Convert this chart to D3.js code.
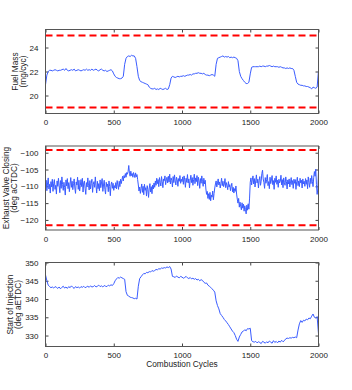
<!DOCTYPE html>
<html>
<head>
<meta charset="utf-8">
<style>
    body { margin: 0; background: #fff; }
    svg { display: block; font-family: 'Liberation Sans', Arial, sans-serif; }
    .tick text { font-size: 8px; fill: #222; }
    .tick line { stroke: #444; }
    .domain { display: none; }
    .ylab, .xlab { font-size: 8.3px; fill: #222; }
</style>
</head>
<body>
<svg width="352" height="390"></svg>

<script src="https://d3js.org/d3.v7.min.js"></script>
<script>
// cycles axis
let xTicks = [0, 500, 1000, 1500, 2000];

// fuel mass (mg/cyc), one value every 10 cycles
let fuelMass = [
    20.9, 21.7, 22.0, 22.1, 22.1, 22.05, 22.1, 22.15, 22.1, 22.05,
    22.1, 22.1, 22.15, 22.2, 22.1, 22.25, 22.1, 22.05, 22.1, 22.15,
    22.1, 22.2, 22.05, 22.1, 22.15, 22.1, 22.05, 22.1, 22.15, 22.1,
    22.2, 22.1, 22.15, 22.1, 22.2, 22.1, 22.15, 22.2, 22.1, 22.05,
    22.15, 22.2, 22.1, 22.05, 22.1, 22.0, 22.05, 22.1, 22.15, 22.05,
    21.8, 21.6, 21.5, 21.45, 21.4, 21.4, 21.45, 21.6, 22.6, 23.1,
    23.25, 23.3, 23.25, 23.35, 23.3, 23.3, 23.1, 22.4, 21.6, 21.25,
    21.15, 21.1, 21.05, 21.0, 20.95, 20.9, 20.7, 20.6, 20.55, 20.55,
    20.6, 20.5, 20.55, 20.5, 20.6, 20.55, 20.5, 20.55, 20.6, 20.5,
    20.55, 20.9, 21.45, 21.6, 21.55, 21.5, 21.55, 21.6, 21.55, 21.6,
    21.6, 21.65, 21.6, 21.65, 21.7, 21.7, 21.75, 21.7, 21.8, 21.8,
    21.85, 21.85, 21.9, 21.85, 21.85, 21.8, 21.85, 21.75, 21.7, 21.7,
    21.65, 21.7, 21.75, 21.7, 21.6, 22.6, 23.1, 23.15, 23.2, 23.25,
    23.3, 23.2, 23.25, 23.2, 23.25, 23.15, 23.2, 23.15, 23.2, 23.15,
    23.1, 22.9, 22.0, 21.6, 21.4, 21.25, 21.1, 21.0, 21.0, 21.1,
    21.8, 22.35, 22.4, 22.4, 22.4, 22.4, 22.4, 22.45, 22.4, 22.45,
    22.45, 22.4, 22.45, 22.45, 22.5, 22.45, 22.4, 22.45, 22.4, 22.4,
    22.4, 22.35, 22.4, 22.35, 22.3, 22.3, 22.25, 22.3, 22.25, 22.3,
    22.25, 22.25, 22.1, 21.6, 21.1, 20.95, 20.9, 20.85, 20.85, 20.8,
    20.8, 20.75, 20.75, 20.7, 20.65, 20.55, 20.7, 20.65, 20.6, 20.7,
    22.1
];
let fuelLimits = [19, 25];
let fuelTicks = [20, 22, 24];

// exhaust valve closing (deg aCTDC), one value every 5 cycles
let evc = [
    -110.5, -108.2, -111.3, -109.0, -107.5, -110.8, -109.4, -112.0, -108.6, -110.2, -107.9, -111.5, -109.1, -108.0, -110.9, -109.7, -112.3, -108.4, -110.0, -107.6,
    -109.8, -111.9, -108.3, -110.6, -107.2, -109.5, -111.2, -108.8, -110.4, -112.6, -108.1, -109.9, -107.7, -110.7, -108.9, -111.6, -109.3, -107.4, -110.3, -108.5,
    -111.0, -109.2, -107.8, -110.5, -112.1, -108.7, -109.6, -107.3, -110.9, -108.2, -111.4, -109.8, -108.0, -110.1, -107.6, -111.7, -109.0, -108.4, -110.6, -112.4,
    -108.9, -110.2, -107.5, -109.7, -111.1, -108.3, -110.8, -109.1, -107.9, -111.8, -109.4, -108.6, -110.3, -107.2, -109.9, -112.0, -108.5, -110.7, -109.2, -111.3,
    -108.1, -110.4, -109.0, -107.7, -111.5, -109.6, -108.2, -110.9, -112.3, -108.8, -110.1, -109.3, -111.6, -108.4, -110.0, -112.8, -109.5, -108.7, -110.6, -109.1,
    -111.2, -109.8, -110.5, -108.9, -110.8, -108.3, -109.6, -110.9, -108.5, -110.1, -107.9, -109.2, -108.1, -107.0, -108.4, -106.8, -107.5, -106.2, -107.3, -105.9,
    -106.4, -105.6, -103.8, -106.1, -107.0, -105.5, -106.8, -106.2, -107.3, -105.9, -106.6, -107.4, -106.0, -107.2, -106.5, -108.0, -109.6, -111.4, -110.2, -112.1,
    -110.6, -109.3, -111.8, -110.0, -112.5, -109.4, -111.2, -110.4, -112.9, -109.8, -111.0, -113.3, -110.5, -109.2, -111.7, -110.1, -112.2, -109.6, -110.8, -109.0,
    -110.3, -108.4, -109.7, -107.6, -109.2, -108.0, -110.1, -107.4, -108.8, -109.9, -107.1, -108.6, -110.4, -107.8, -108.3, -106.9, -109.5, -108.1, -107.3, -109.0,
    -107.0, -108.7, -106.4, -109.3, -107.5, -108.2, -110.2, -107.1, -108.9, -106.6, -108.4, -109.6, -107.3, -108.0, -110.0, -107.7, -108.5, -106.8, -109.1, -107.9,
    -108.6, -107.2, -109.4, -106.9, -108.1, -110.3, -107.6, -108.8, -106.5, -109.0, -107.8, -110.5, -108.2, -106.7, -108.9, -107.4, -109.7, -108.0, -106.4, -109.2,
    -107.5, -108.6, -106.8, -109.8, -107.3, -108.4, -110.6, -107.7, -109.1, -106.9, -108.5, -110.0, -107.6, -109.3, -108.2, -110.8, -112.4, -111.5, -113.6, -112.2,
    -113.9, -111.8, -114.3, -112.6, -113.2, -111.4, -114.0, -112.1, -110.5, -109.3, -108.4, -110.2, -109.0, -107.8, -109.6, -108.7, -110.5, -109.2, -107.6, -109.8,
    -108.5, -110.1, -109.3, -107.7, -110.4, -108.9, -109.8, -111.0, -108.6, -110.2, -109.5, -111.3, -110.0, -109.1, -111.6, -110.3, -112.0, -110.7, -111.5, -109.9,
    -112.3, -113.8, -115.0, -113.6, -116.2, -114.7, -115.9, -117.0, -114.9, -116.5, -115.3, -117.4, -115.8, -116.9, -118.2, -115.6, -117.1, -115.2, -116.8, -113.5,
    -108.8, -107.5, -109.6, -108.1, -106.9, -109.3, -107.7, -110.2, -108.4, -106.6, -109.0, -107.9, -110.5, -108.2, -107.1, -109.7, -108.5, -106.2, -105.2, -107.8,
    -108.9, -110.6, -107.4, -109.1, -108.0, -106.5, -109.8, -108.6, -110.7, -107.3, -109.2, -108.1, -106.8, -109.5, -108.3, -110.9, -107.6, -108.8, -106.9, -109.4,
    -108.2, -110.3, -107.9, -109.0, -108.5, -106.7, -109.6, -108.0, -110.4, -107.5, -108.9, -109.7, -107.2, -108.6, -110.8, -108.1, -109.3, -107.8, -110.2, -108.7,
    -107.4, -109.5, -108.3, -110.6, -107.9, -109.1, -108.0, -110.9, -108.6, -107.3, -109.8, -108.4, -110.1, -107.6, -109.0, -108.2, -110.5, -107.8, -109.3, -108.5,
    -110.0, -107.7, -109.4, -108.1, -110.7, -107.2, -108.9, -110.3, -107.6, -109.2, -106.8, -108.5, -110.1, -107.3, -105.6, -107.0, -104.9, -109.5, -112.4, -110.8,
    -105.5
];
let evcLimits = [-121.6, -99.2];
let evcTicks = [-120, -115, -110, -105, -100];

// start of injection (deg aETDC), one value every 10 cycles
let soi = [
    346.6, 345.0, 343.8, 343.4, 343.1, 343.3, 343.0, 343.4, 343.2, 342.9,
    343.3, 342.8, 343.2, 343.5, 343.0, 343.3, 342.9, 343.4, 343.1, 343.6,
    343.2, 342.9, 343.4, 343.1, 343.3, 343.0, 343.4, 343.2, 343.5, 343.1,
    343.3, 343.5, 343.2, 343.6, 343.3, 343.4, 343.7, 343.3, 343.5, 343.8,
    343.4, 343.6, 343.3, 343.7, 343.5, 343.4, 343.8, 343.6, 343.9, 343.7,
    344.2, 345.0, 345.5, 345.9, 345.7, 346.0, 345.8, 345.6, 345.4, 342.0,
    341.0, 340.8, 340.5, 340.4, 340.3, 340.1, 340.2, 340.0, 343.5, 345.6,
    346.1, 346.6, 347.0, 346.9, 347.3, 347.2, 347.5, 347.4, 347.8, 347.6,
    347.8, 348.1, 348.0, 348.3, 348.2, 348.5, 348.4, 348.6, 348.5, 348.8,
    348.6, 348.9, 348.2, 346.2, 346.1, 345.9, 346.3, 346.0, 345.8, 346.2,
    346.0, 345.7, 345.9, 346.2, 345.8, 345.6, 345.9, 345.5, 345.7, 345.4,
    345.6, 345.2, 345.4, 345.0, 345.3, 345.1, 344.6, 344.3, 344.4, 343.8,
    343.5, 343.2, 342.8, 342.4, 341.9, 339.5, 338.2, 337.3, 336.0, 335.5,
    335.0, 334.4, 334.0, 333.5, 333.0, 332.4, 331.8, 331.2, 330.8, 330.0,
    329.0, 328.4, 329.6, 330.3, 331.0, 331.2, 331.6, 331.3, 331.9, 331.8,
    332.0, 328.6, 328.3, 328.2, 328.4, 328.0, 328.3, 328.1, 327.8, 328.4,
    328.2, 327.9, 328.3, 328.0, 328.5, 328.2, 327.9, 328.6, 328.1, 328.4,
    328.0, 328.5, 328.2, 328.7, 328.3, 328.6, 329.1, 329.3, 329.2, 329.4,
    329.3, 329.5, 329.4, 329.6, 329.4, 331.5, 333.2, 334.1, 333.6, 334.2,
    334.0, 334.5, 334.3, 334.8, 334.6, 335.3, 335.9, 335.0, 334.8, 335.2,
    330.4
];
let soiTicks = [330, 335, 340, 345, 350];

let svg = d3.select("svg");

let x = d3.scaleLinear()
    .domain([0, 2000])
    .range([45.5, 318.5]);

let panelH = 84;

let panels = [
    { top: 29.5, domain: [18.5, 25.5], values: fuelMass, step: 10, limits: fuelLimits, ticks: fuelTicks,
      label: ["Fuel Mass", "(mg/cyc)"], lx: [15, 23] },
    { top: 146, domain: [-123, -98], values: evc, step: 5, limits: evcLimits, ticks: evcTicks,
      label: ["Exhaust Valve Closing", "(deg aCTDC)"], lx: [6.5, 14.5] },
    { top: 262.5, domain: [327, 350], values: soi, step: 10, limits: [], ticks: soiTicks,
      label: ["Start of Injection", "(deg aETDC)"], lx: [10.5, 18.5] }
];

panels.forEach(function (p) {
    let bottom = p.top + panelH;
    let y = d3.scaleLinear()
        .domain(p.domain)
        .range([bottom, p.top]);

    let g = svg.append("g");

    // ticks, all pointing inward like matlab
    g.append("g")
        .attr("transform", `translate(0,${bottom})`)
        .call(d3.axisBottom(x).tickValues(xTicks).tickSize(-3).tickPadding(6).tickFormat(d3.format("d")));
    g.append("g")
        .attr("transform", `translate(0,${p.top})`)
        .call(d3.axisTop(x).tickValues(xTicks).tickSize(-3).tickFormat(""));
    g.append("g")
        .attr("transform", `translate(${x.range()[0]},0)`)
        .call(d3.axisLeft(y).tickValues(p.ticks).tickSize(-3).tickPadding(7).tickFormat(d3.format("d")));
    g.append("g")
        .attr("transform", `translate(${x.range()[1]},0)`)
        .call(d3.axisRight(y).tickValues(p.ticks).tickSize(-3).tickFormat(""));

    // data line
    let line = d3.line()
        .x(function (d, i) { return x(i * p.step) })
        .y(function (d) { return y(d) });

    g.append("path")
        .attr("d", line(p.values))
        .style("fill", "none")
        .style("stroke", "#3a5cff")
        .style("stroke-width", 1);

    // limit lines
    p.limits.forEach(function (v) {
        g.append("line")
            .attr("x1", x(0))
            .attr("x2", x(2000))
            .attr("y1", y(v))
            .attr("y2", y(v))
            .style("stroke", "#ff0000")
            .style("stroke-width", 2)
            .style("stroke-dasharray", "7 4");
    });

    // box
    g.append("rect")
        .attr("x", x.range()[0])
        .attr("y", p.top)
        .attr("width", x.range()[1] - x.range()[0])
        .attr("height", panelH)
        .style("fill", "none")
        .style("stroke", "#555")
        .style("stroke-width", 1);

    // two line y label
    let cy = p.top + panelH / 2;
    p.label.forEach(function (t, i) {
        svg.append("text")
            .attr("class", "ylab")
            .attr("transform", `translate(${p.lx[i]},${cy}) rotate(-90)`)
            .attr("text-anchor", "middle")
            .attr("dy", "0.35em")
            .text(t);
    });
});

svg.append("text")
    .attr("class", "xlab")
    .attr("x", (x.range()[0] + x.range()[1]) / 2)
    .attr("y", 367)
    .attr("text-anchor", "middle")
    .text("Combustion Cycles");
</script>
</body>
</html>
